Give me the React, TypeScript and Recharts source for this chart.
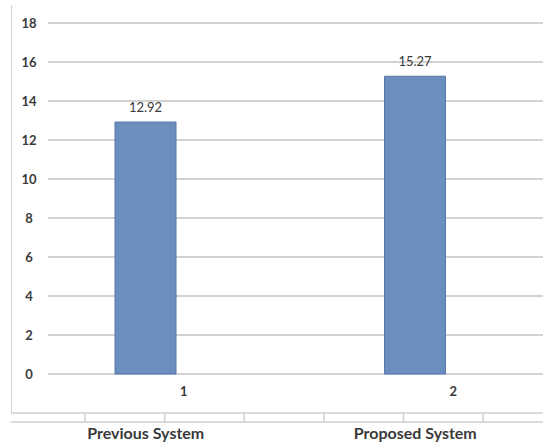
import { Bar, BarChart, CartesianGrid, LabelList, XAxis, YAxis } from "recharts";

const CATEGORIES = ["1", "2"];
const SYSTEMS = ["Previous System", "Proposed System"];
const VALUES = [12.92, 15.27];
const Y_TICKS = [0, 2, 4, 6, 8, 10, 12, 14, 16, 18];
// separators of the table strip under the plot
const STRIP_TICKS = [1, 2, 3, 4, 5, 6];

const rows = CATEGORIES.map((cat, i) => ({
  cat,
  system: SYSTEMS[i],
  value: VALUES[i],
  strip: i
}));

const FONT = "Lato, 'Open Sans', sans-serif";
const TEXT = "#3a3a3a";
const FRAME = "#cfcfcf";

export default function App() {
  return (
    <div style={{ position: "absolute", left: 0, top: 0, width: 543, height: 446, overflow: "hidden", background: "#fff" }}>
      <div style={{ position: "absolute", left: 11, top: 5, width: 1, height: 408, background: "#d4d4d4" }} />
      <BarChart
        width={550}
        height={446}
        data={rows}
        margin={{ top: 23, right: 0, bottom: 0, left: 11 }}
        style={{ fontFamily: FONT }}
      >
        <CartesianGrid vertical={false} x={48} width={502} stroke="#d2d2d2" strokeWidth={2} />
        <YAxis
          mirror
          width={1}
          domain={[0, 18]}
          ticks={Y_TICKS}
          axisLine={false}
          tickLine={false}
          tickSize={0}
          tickMargin={18}
          tick={{ textAnchor: "middle", fontSize: 13, fontWeight: 700, fill: TEXT }}
        />
        <XAxis
          xAxisId="cat"
          dataKey="cat"
          height={39}
          axisLine={false}
          tickLine={false}
          tickSize={0}
          tickMargin={13}
          tick={{ dx: 38, fontSize: 13, fontWeight: 700, fill: TEXT }}
        />
        <XAxis
          xAxisId="strip"
          type="number"
          dataKey="strip"
          domain={[0.07, 6.84]}
          ticks={STRIP_TICKS}
          allowDataOverflow
          height={9}
          tickFormatter={() => ""}
          tickSize={9}
          tickMargin={0}
          axisLine={{ stroke: FRAME, strokeWidth: 1.5 }}
          tickLine={{ stroke: FRAME, strokeWidth: 1.5 }}
        />
        <XAxis
          xAxisId="sys"
          dataKey="system"
          height={24}
          tickLine={false}
          tickSize={0}
          tickMargin={6}
          axisLine={{ stroke: FRAME, strokeWidth: 1.5 }}
          tick={{ fontSize: 16, fontWeight: 700, fill: TEXT }}
        />
        <Bar
          xAxisId="cat"
          dataKey="value"
          barSize={61}
          fill="#6a8ebd"
          stroke="#5479aa"
          strokeWidth={1}
          isAnimationActive={false}
        >
          <LabelList dataKey="value" position="top" offset={10} fill={TEXT} fontSize={13} />
        </Bar>
      </BarChart>
    </div>
  );
}
